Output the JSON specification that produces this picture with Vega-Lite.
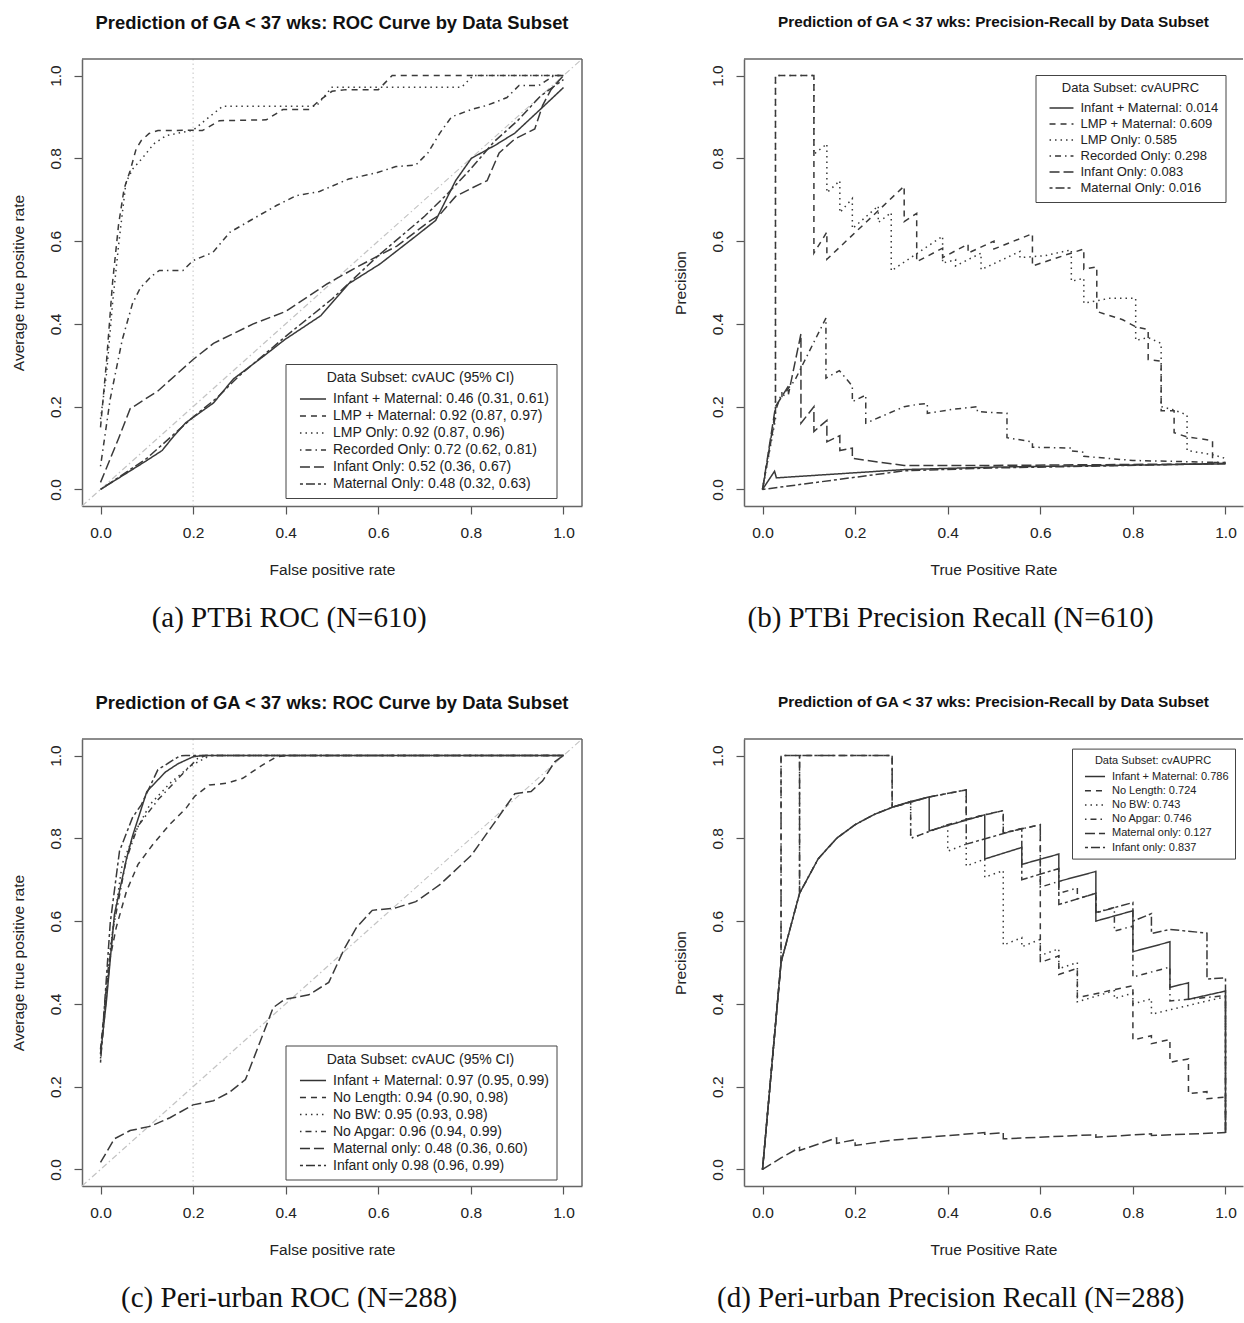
{
"$schema": "https://vega.github.io/schema/vega-lite/v6.json",
"background": "white",
"padding": {"left": 11, "top": 13, "right": 0, "bottom": 0},
"config": {
 "font": "Liberation Sans",
 "view": {"stroke": null},
 "axis": {"grid": false, "domainColor": "#666", "domainWidth": 1.5, "tickColor": "#555", "tickWidth": 1.2, "tickSize": 8, "labelFontSize": 15.5, "titleFontSize": 15.5, "labelColor": "#222", "titleColor": "#222", "titleFontWeight": "normal", "labelFlush": false, "labelOverlap": false},
 "axisX": {"labelPadding": 11, "titlePadding": 22},
 "axisY": {"labelAngle": -90, "labelAlign": "center", "labelBaseline": "alphabetic", "labelPadding": 13.5, "titlePadding": 22},
 "title": {"font": "Liberation Sans", "fontWeight": "bold", "color": "#111", "anchor": "middle"},
 "legend": {"orient": "none", "fillColor": "white", "strokeColor": "#444", "titleFontWeight": "normal", "titleColor": "#222", "labelColor": "#222", "labelLimit": 500, "titleLimit": 500, "titleAnchor": "middle", "symbolStrokeWidth": 1.5, "symbolStrokeColor": "#333"}
},
"datasets": {
"a": [
{"s":"s1","x":0,"y":0},{"s":"s1","x":0.05,"y":0.035},{"s":"s1","x":0.1,"y":0.07},{"s":"s1","x":0.133,"y":0.094},{"s":"s1","x":0.159,"y":0.13},{"s":"s1","x":0.184,"y":0.161},{"s":"s1","x":0.244,"y":0.209},{"s":"s1","x":0.287,"y":0.267},{"s":"s1","x":0.35,"y":0.32},{"s":"s1","x":0.398,"y":0.362},{"s":"s1","x":0.476,"y":0.42},{"s":"s1","x":0.536,"y":0.497},{"s":"s1","x":0.604,"y":0.545},{"s":"s1","x":0.681,"y":0.612},{"s":"s1","x":0.724,"y":0.65},{"s":"s1","x":0.767,"y":0.746},{"s":"s1","x":0.801,"y":0.8},{"s":"s1","x":0.853,"y":0.832},{"s":"s1","x":0.895,"y":0.861},{"s":"s1","x":0.964,"y":0.933},{"s":"s1","x":1,"y":0.971},
{"s":"s2","x":0,"y":0.15},{"s":"s2","x":0.013,"y":0.31},{"s":"s2","x":0.026,"y":0.5},{"s":"s2","x":0.039,"y":0.64},{"s":"s2","x":0.051,"y":0.727},{"s":"s2","x":0.064,"y":0.77},{"s":"s2","x":0.077,"y":0.823},{"s":"s2","x":0.088,"y":0.843},{"s":"s2","x":0.105,"y":0.86},{"s":"s2","x":0.124,"y":0.867},{"s":"s2","x":0.2,"y":0.868},{"s":"s2","x":0.22,"y":0.867},{"s":"s2","x":0.257,"y":0.891},{"s":"s2","x":0.358,"y":0.893},{"s":"s2","x":0.394,"y":0.918},{"s":"s2","x":0.451,"y":0.918},{"s":"s2","x":0.473,"y":0.94},{"s":"s2","x":0.5,"y":0.962},{"s":"s2","x":0.53,"y":0.966},{"s":"s2","x":0.6,"y":0.966},{"s":"s2","x":0.63,"y":1},{"s":"s2","x":1,"y":1},
{"s":"s3","x":0,"y":0.17},{"s":"s3","x":0.013,"y":0.28},{"s":"s3","x":0.026,"y":0.45},{"s":"s3","x":0.04,"y":0.6},{"s":"s3","x":0.055,"y":0.742},{"s":"s3","x":0.07,"y":0.775},{"s":"s3","x":0.09,"y":0.8},{"s":"s3","x":0.115,"y":0.835},{"s":"s3","x":0.142,"y":0.855},{"s":"s3","x":0.2,"y":0.868},{"s":"s3","x":0.235,"y":0.9},{"s":"s3","x":0.264,"y":0.926},{"s":"s3","x":0.466,"y":0.926},{"s":"s3","x":0.5,"y":0.972},{"s":"s3","x":0.78,"y":0.972},{"s":"s3","x":0.805,"y":1},{"s":"s3","x":1,"y":1},
{"s":"s4","x":0,"y":0.056},{"s":"s4","x":0.021,"y":0.219},{"s":"s4","x":0.047,"y":0.362},{"s":"s4","x":0.069,"y":0.449},{"s":"s4","x":0.086,"y":0.487},{"s":"s4","x":0.11,"y":0.515},{"s":"s4","x":0.127,"y":0.529},{"s":"s4","x":0.178,"y":0.529},{"s":"s4","x":0.2,"y":0.553},{"s":"s4","x":0.243,"y":0.573},{"s":"s4","x":0.279,"y":0.621},{"s":"s4","x":0.336,"y":0.658},{"s":"s4","x":0.38,"y":0.686},{"s":"s4","x":0.423,"y":0.71},{"s":"s4","x":0.473,"y":0.72},{"s":"s4","x":0.536,"y":0.75},{"s":"s4","x":0.596,"y":0.765},{"s":"s4","x":0.638,"y":0.78},{"s":"s4","x":0.681,"y":0.784},{"s":"s4","x":0.707,"y":0.813},{"s":"s4","x":0.733,"y":0.861},{"s":"s4","x":0.758,"y":0.9},{"s":"s4","x":0.801,"y":0.918},{"s":"s4","x":0.835,"y":0.928},{"s":"s4","x":0.878,"y":0.947},{"s":"s4","x":0.904,"y":0.976},{"s":"s4","x":0.947,"y":0.976},{"s":"s4","x":0.98,"y":1},{"s":"s4","x":1,"y":1},
{"s":"s5","x":0,"y":0.017},{"s":"s5","x":0.039,"y":0.123},{"s":"s5","x":0.064,"y":0.195},{"s":"s5","x":0.124,"y":0.238},{"s":"s5","x":0.2,"y":0.314},{"s":"s5","x":0.244,"y":0.353},{"s":"s5","x":0.33,"y":0.4},{"s":"s5","x":0.4,"y":0.43},{"s":"s5","x":0.49,"y":0.497},{"s":"s5","x":0.55,"y":0.535},{"s":"s5","x":0.64,"y":0.588},{"s":"s5","x":0.707,"y":0.645},{"s":"s5","x":0.733,"y":0.664},{"s":"s5","x":0.767,"y":0.708},{"s":"s5","x":0.8,"y":0.727},{"s":"s5","x":0.835,"y":0.746},{"s":"s5","x":0.861,"y":0.813},{"s":"s5","x":0.895,"y":0.847},{"s":"s5","x":0.938,"y":0.871},{"s":"s5","x":0.955,"y":0.928},{"s":"s5","x":0.973,"y":0.966},{"s":"s5","x":1,"y":1},
{"s":"s6","x":0,"y":0},{"s":"s6","x":0.1,"y":0.075},{"s":"s6","x":0.2,"y":0.175},{"s":"s6","x":0.25,"y":0.22},{"s":"s6","x":0.3,"y":0.275},{"s":"s6","x":0.4,"y":0.37},{"s":"s6","x":0.5,"y":0.46},{"s":"s6","x":0.6,"y":0.565},{"s":"s6","x":0.7,"y":0.66},{"s":"s6","x":0.75,"y":0.715},{"s":"s6","x":0.8,"y":0.775},{"s":"s6","x":0.85,"y":0.84},{"s":"s6","x":0.9,"y":0.89},{"s":"s6","x":0.95,"y":0.95},{"s":"s6","x":1,"y":0.99}
],
"b": [
{"s":"s1","x":0,"y":0},{"s":"s1","x":0.026,"y":0.044},{"s":"s1","x":0.03,"y":0.028},{"s":"s1","x":0.306,"y":0.048},{"s":"s1","x":0.5,"y":0.054},{"s":"s1","x":0.75,"y":0.058},{"s":"s1","x":1,"y":0.062},
{"s":"s2","x":0,"y":0},{"s":"s2","x":0.028,"y":0.18},{"s":"s2","x":0.028,"y":1},{"s":"s2","x":0.111,"y":1},{"s":"s2","x":0.111,"y":0.571},{"s":"s2","x":0.139,"y":0.622},{"s":"s2","x":0.139,"y":0.556},{"s":"s2","x":0.306,"y":0.733},{"s":"s2","x":0.306,"y":0.647},{"s":"s2","x":0.333,"y":0.667},{"s":"s2","x":0.333,"y":0.55},{"s":"s2","x":0.389,"y":0.583},{"s":"s2","x":0.389,"y":0.56},{"s":"s2","x":0.444,"y":0.593},{"s":"s2","x":0.444,"y":0.571},{"s":"s2","x":0.5,"y":0.6},{"s":"s2","x":0.5,"y":0.581},{"s":"s2","x":0.583,"y":0.618},{"s":"s2","x":0.583,"y":0.54},{"s":"s2","x":0.694,"y":0.581},{"s":"s2","x":0.694,"y":0.532},{"s":"s2","x":0.722,"y":0.538},{"s":"s2","x":0.722,"y":0.43},{"s":"s2","x":0.778,"y":0.41},{"s":"s2","x":0.806,"y":0.393},{"s":"s2","x":0.833,"y":0.386},{"s":"s2","x":0.833,"y":0.314},{"s":"s2","x":0.861,"y":0.31},{"s":"s2","x":0.861,"y":0.19},{"s":"s2","x":0.889,"y":0.19},{"s":"s2","x":0.889,"y":0.137},{"s":"s2","x":0.917,"y":0.127},{"s":"s2","x":0.972,"y":0.118},{"s":"s2","x":0.972,"y":0.065},{"s":"s2","x":1,"y":0.065},
{"s":"s3","x":0,"y":0},{"s":"s3","x":0.028,"y":0.17},{"s":"s3","x":0.028,"y":1},{"s":"s3","x":0.111,"y":1},{"s":"s3","x":0.111,"y":0.81},{"s":"s3","x":0.139,"y":0.835},{"s":"s3","x":0.139,"y":0.717},{"s":"s3","x":0.167,"y":0.746},{"s":"s3","x":0.167,"y":0.669},{"s":"s3","x":0.194,"y":0.703},{"s":"s3","x":0.194,"y":0.63},{"s":"s3","x":0.25,"y":0.685},{"s":"s3","x":0.25,"y":0.645},{"s":"s3","x":0.278,"y":0.669},{"s":"s3","x":0.278,"y":0.528},{"s":"s3","x":0.389,"y":0.612},{"s":"s3","x":0.389,"y":0.547},{"s":"s3","x":0.417,"y":0.555},{"s":"s3","x":0.417,"y":0.54},{"s":"s3","x":0.472,"y":0.571},{"s":"s3","x":0.472,"y":0.531},{"s":"s3","x":0.556,"y":0.575},{"s":"s3","x":0.556,"y":0.56},{"s":"s3","x":0.611,"y":0.565},{"s":"s3","x":0.667,"y":0.579},{"s":"s3","x":0.667,"y":0.503},{"s":"s3","x":0.694,"y":0.51},{"s":"s3","x":0.694,"y":0.45},{"s":"s3","x":0.75,"y":0.462},{"s":"s3","x":0.806,"y":0.462},{"s":"s3","x":0.806,"y":0.36},{"s":"s3","x":0.833,"y":0.367},{"s":"s3","x":0.861,"y":0.353},{"s":"s3","x":0.861,"y":0.2},{"s":"s3","x":0.889,"y":0.192},{"s":"s3","x":0.917,"y":0.18},{"s":"s3","x":0.917,"y":0.094},{"s":"s3","x":0.972,"y":0.084},{"s":"s3","x":1,"y":0.075},
{"s":"s4","x":0,"y":0},{"s":"s4","x":0.028,"y":0.19},{"s":"s4","x":0.042,"y":0.235},{"s":"s4","x":0.042,"y":0.22},{"s":"s4","x":0.056,"y":0.245},{"s":"s4","x":0.069,"y":0.262},{"s":"s4","x":0.137,"y":0.414},{"s":"s4","x":0.137,"y":0.269},{"s":"s4","x":0.166,"y":0.287},{"s":"s4","x":0.194,"y":0.25},{"s":"s4","x":0.194,"y":0.212},{"s":"s4","x":0.223,"y":0.228},{"s":"s4","x":0.223,"y":0.16},{"s":"s4","x":0.306,"y":0.2},{"s":"s4","x":0.333,"y":0.205},{"s":"s4","x":0.356,"y":0.208},{"s":"s4","x":0.356,"y":0.184},{"s":"s4","x":0.414,"y":0.194},{"s":"s4","x":0.464,"y":0.2},{"s":"s4","x":0.464,"y":0.188},{"s":"s4","x":0.528,"y":0.184},{"s":"s4","x":0.528,"y":0.125},{"s":"s4","x":0.556,"y":0.12},{"s":"s4","x":0.583,"y":0.115},{"s":"s4","x":0.583,"y":0.102},{"s":"s4","x":0.667,"y":0.1},{"s":"s4","x":0.667,"y":0.093},{"s":"s4","x":0.694,"y":0.09},{"s":"s4","x":0.694,"y":0.08},{"s":"s4","x":0.8,"y":0.07},{"s":"s4","x":1,"y":0.065},
{"s":"s5","x":0,"y":0},{"s":"s5","x":0.028,"y":0.2},{"s":"s5","x":0.056,"y":0.25},{"s":"s5","x":0.056,"y":0.23},{"s":"s5","x":0.083,"y":0.376},{"s":"s5","x":0.083,"y":0.16},{"s":"s5","x":0.111,"y":0.2},{"s":"s5","x":0.111,"y":0.14},{"s":"s5","x":0.139,"y":0.167},{"s":"s5","x":0.139,"y":0.115},{"s":"s5","x":0.167,"y":0.13},{"s":"s5","x":0.167,"y":0.094},{"s":"s5","x":0.194,"y":0.1},{"s":"s5","x":0.194,"y":0.075},{"s":"s5","x":0.278,"y":0.062},{"s":"s5","x":0.306,"y":0.058},{"s":"s5","x":0.5,"y":0.058},{"s":"s5","x":1,"y":0.062},
{"s":"s6","x":0,"y":0},{"s":"s6","x":0.306,"y":0.045},{"s":"s6","x":0.5,"y":0.052},{"s":"s6","x":0.75,"y":0.057},{"s":"s6","x":1,"y":0.063}
],
"c": [
{"s":"s1","x":0,"y":0.278},{"s":"s1","x":0.013,"y":0.41},{"s":"s1","x":0.03,"y":0.616},{"s":"s1","x":0.056,"y":0.75},{"s":"s1","x":0.069,"y":0.805},{"s":"s1","x":0.1,"y":0.913},{"s":"s1","x":0.14,"y":0.96},{"s":"s1","x":0.167,"y":0.98},{"s":"s1","x":0.2,"y":0.997},{"s":"s1","x":0.22,"y":1},{"s":"s1","x":1,"y":1},
{"s":"s2","x":0,"y":0.29},{"s":"s2","x":0.017,"y":0.49},{"s":"s2","x":0.034,"y":0.585},{"s":"s2","x":0.056,"y":0.672},{"s":"s2","x":0.081,"y":0.737},{"s":"s2","x":0.113,"y":0.785},{"s":"s2","x":0.149,"y":0.833},{"s":"s2","x":0.185,"y":0.873},{"s":"s2","x":0.203,"y":0.901},{"s":"s2","x":0.235,"y":0.929},{"s":"s2","x":0.272,"y":0.933},{"s":"s2","x":0.307,"y":0.945},{"s":"s2","x":0.347,"y":0.975},{"s":"s2","x":0.38,"y":0.997},{"s":"s2","x":0.4,"y":1},{"s":"s2","x":1,"y":1},
{"s":"s3","x":0,"y":0.28},{"s":"s3","x":0.021,"y":0.534},{"s":"s3","x":0.047,"y":0.739},{"s":"s3","x":0.077,"y":0.82},{"s":"s3","x":0.107,"y":0.882},{"s":"s3","x":0.15,"y":0.933},{"s":"s3","x":0.193,"y":0.974},{"s":"s3","x":0.236,"y":1},{"s":"s3","x":1,"y":1},
{"s":"s4","x":0,"y":0.268},{"s":"s4","x":0.026,"y":0.575},{"s":"s4","x":0.056,"y":0.75},{"s":"s4","x":0.081,"y":0.83},{"s":"s4","x":0.124,"y":0.893},{"s":"s4","x":0.167,"y":0.944},{"s":"s4","x":0.21,"y":0.993},{"s":"s4","x":0.227,"y":1},{"s":"s4","x":1,"y":1},
{"s":"s5","x":0,"y":0.017},{"s":"s5","x":0.03,"y":0.074},{"s":"s5","x":0.064,"y":0.094},{"s":"s5","x":0.107,"y":0.104},{"s":"s5","x":0.15,"y":0.125},{"s":"s5","x":0.2,"y":0.156},{"s":"s5","x":0.244,"y":0.166},{"s":"s5","x":0.278,"y":0.186},{"s":"s5","x":0.313,"y":0.217},{"s":"s5","x":0.338,"y":0.289},{"s":"s5","x":0.373,"y":0.391},{"s":"s5","x":0.398,"y":0.411},{"s":"s5","x":0.45,"y":0.422},{"s":"s5","x":0.493,"y":0.452},{"s":"s5","x":0.527,"y":0.534},{"s":"s5","x":0.553,"y":0.585},{"s":"s5","x":0.587,"y":0.626},{"s":"s5","x":0.638,"y":0.632},{"s":"s5","x":0.681,"y":0.647},{"s":"s5","x":0.733,"y":0.688},{"s":"s5","x":0.801,"y":0.759},{"s":"s5","x":0.853,"y":0.841},{"s":"s5","x":0.895,"y":0.908},{"s":"s5","x":0.93,"y":0.913},{"s":"s5","x":0.955,"y":0.939},{"s":"s5","x":0.981,"y":0.985},{"s":"s5","x":1,"y":1},
{"s":"s6","x":0,"y":0.258},{"s":"s6","x":0.021,"y":0.596},{"s":"s6","x":0.041,"y":0.769},{"s":"s6","x":0.069,"y":0.85},{"s":"s6","x":0.088,"y":0.881},{"s":"s6","x":0.124,"y":0.966},{"s":"s6","x":0.171,"y":0.999},{"s":"s6","x":0.184,"y":1},{"s":"s6","x":1,"y":1}
],
"d": [
{"s":"s1","x":0,"y":0},{"s":"s1","x":0.04,"y":0.5},{"s":"s1","x":0.08,"y":0.667},{"s":"s1","x":0.12,"y":0.75},{"s":"s1","x":0.16,"y":0.8},{"s":"s1","x":0.2,"y":0.833},{"s":"s1","x":0.24,"y":0.857},{"s":"s1","x":0.28,"y":0.875},{"s":"s1","x":0.32,"y":0.889},{"s":"s1","x":0.36,"y":0.9},{"s":"s1","x":0.36,"y":0.818},{"s":"s1","x":0.48,"y":0.857},{"s":"s1","x":0.48,"y":0.75},{"s":"s1","x":0.56,"y":0.778},{"s":"s1","x":0.56,"y":0.737},{"s":"s1","x":0.64,"y":0.762},{"s":"s1","x":0.64,"y":0.696},{"s":"s1","x":0.72,"y":0.72},{"s":"s1","x":0.72,"y":0.6},{"s":"s1","x":0.8,"y":0.625},{"s":"s1","x":0.8,"y":0.526},{"s":"s1","x":0.88,"y":0.55},{"s":"s1","x":0.88,"y":0.44},{"s":"s1","x":0.92,"y":0.451},{"s":"s1","x":0.92,"y":0.411},{"s":"s1","x":1,"y":0.431},{"s":"s1","x":1,"y":0.088},
{"s":"s2","x":0,"y":0},{"s":"s2","x":0.04,"y":0.5},{"s":"s2","x":0.04,"y":1},{"s":"s2","x":0.28,"y":1},{"s":"s2","x":0.28,"y":0.875},{"s":"s2","x":0.36,"y":0.9},{"s":"s2","x":0.44,"y":0.917},{"s":"s2","x":0.44,"y":0.846},{"s":"s2","x":0.52,"y":0.867},{"s":"s2","x":0.52,"y":0.813},{"s":"s2","x":0.6,"y":0.833},{"s":"s2","x":0.6,"y":0.5},{"s":"s2","x":0.64,"y":0.516},{"s":"s2","x":0.64,"y":0.471},{"s":"s2","x":0.68,"y":0.486},{"s":"s2","x":0.68,"y":0.415},{"s":"s2","x":0.8,"y":0.444},{"s":"s2","x":0.8,"y":0.313},{"s":"s2","x":0.84,"y":0.323},{"s":"s2","x":0.84,"y":0.304},{"s":"s2","x":0.88,"y":0.314},{"s":"s2","x":0.88,"y":0.259},{"s":"s2","x":0.92,"y":0.267},{"s":"s2","x":0.92,"y":0.183},{"s":"s2","x":0.96,"y":0.188},{"s":"s2","x":0.96,"y":0.171},{"s":"s2","x":1,"y":0.175},{"s":"s2","x":1,"y":0.088},
{"s":"s3","x":0,"y":0},{"s":"s3","x":0.04,"y":0.5},{"s":"s3","x":0.08,"y":0.667},{"s":"s3","x":0.12,"y":0.75},{"s":"s3","x":0.16,"y":0.8},{"s":"s3","x":0.2,"y":0.833},{"s":"s3","x":0.24,"y":0.857},{"s":"s3","x":0.28,"y":0.875},{"s":"s3","x":0.32,"y":0.889},{"s":"s3","x":0.32,"y":0.8},{"s":"s3","x":0.4,"y":0.833},{"s":"s3","x":0.4,"y":0.769},{"s":"s3","x":0.44,"y":0.786},{"s":"s3","x":0.44,"y":0.733},{"s":"s3","x":0.48,"y":0.75},{"s":"s3","x":0.48,"y":0.706},{"s":"s3","x":0.52,"y":0.722},{"s":"s3","x":0.52,"y":0.542},{"s":"s3","x":0.56,"y":0.56},{"s":"s3","x":0.56,"y":0.538},{"s":"s3","x":0.6,"y":0.556},{"s":"s3","x":0.6,"y":0.517},{"s":"s3","x":0.64,"y":0.533},{"s":"s3","x":0.64,"y":0.485},{"s":"s3","x":0.68,"y":0.5},{"s":"s3","x":0.68,"y":0.405},{"s":"s3","x":0.76,"y":0.432},{"s":"s3","x":0.76,"y":0.413},{"s":"s3","x":0.8,"y":0.426},{"s":"s3","x":0.8,"y":0.4},{"s":"s3","x":0.84,"y":0.412},{"s":"s3","x":0.84,"y":0.375},{"s":"s3","x":0.96,"y":0.407},{"s":"s3","x":1,"y":0.417},{"s":"s3","x":1,"y":0.088},
{"s":"s4","x":0,"y":0},{"s":"s4","x":0.04,"y":0.5},{"s":"s4","x":0.04,"y":1},{"s":"s4","x":0.08,"y":1},{"s":"s4","x":0.08,"y":0.667},{"s":"s4","x":0.12,"y":0.75},{"s":"s4","x":0.16,"y":0.8},{"s":"s4","x":0.2,"y":0.833},{"s":"s4","x":0.24,"y":0.857},{"s":"s4","x":0.28,"y":0.875},{"s":"s4","x":0.32,"y":0.889},{"s":"s4","x":0.32,"y":0.8},{"s":"s4","x":0.4,"y":0.833},{"s":"s4","x":0.48,"y":0.857},{"s":"s4","x":0.52,"y":0.867},{"s":"s4","x":0.52,"y":0.813},{"s":"s4","x":0.6,"y":0.833},{"s":"s4","x":0.6,"y":0.682},{"s":"s4","x":0.64,"y":0.696},{"s":"s4","x":0.64,"y":0.667},{"s":"s4","x":0.68,"y":0.68},{"s":"s4","x":0.68,"y":0.654},{"s":"s4","x":0.72,"y":0.667},{"s":"s4","x":0.72,"y":0.621},{"s":"s4","x":0.76,"y":0.633},{"s":"s4","x":0.76,"y":0.576},{"s":"s4","x":0.8,"y":0.588},{"s":"s4","x":0.8,"y":0.465},{"s":"s4","x":0.88,"y":0.489},{"s":"s4","x":0.88,"y":0.407},{"s":"s4","x":1,"y":0.42},{"s":"s4","x":1,"y":0.088},
{"s":"s5","x":0,"y":0},{"s":"s5","x":0.04,"y":0.028},{"s":"s5","x":0.08,"y":0.053},{"s":"s5","x":0.08,"y":0.046},{"s":"s5","x":0.16,"y":0.076},{"s":"s5","x":0.16,"y":0.063},{"s":"s5","x":0.2,"y":0.072},{"s":"s5","x":0.2,"y":0.058},{"s":"s5","x":0.28,"y":0.071},{"s":"s5","x":0.48,"y":0.089},{"s":"s5","x":0.48,"y":0.085},{"s":"s5","x":0.52,"y":0.089},{"s":"s5","x":0.52,"y":0.074},{"s":"s5","x":0.72,"y":0.084},{"s":"s5","x":0.72,"y":0.078},{"s":"s5","x":0.84,"y":0.086},{"s":"s5","x":0.84,"y":0.082},{"s":"s5","x":1,"y":0.089},
{"s":"s6","x":0,"y":0},{"s":"s6","x":0.04,"y":0.5},{"s":"s6","x":0.08,"y":0.667},{"s":"s6","x":0.08,"y":1},{"s":"s6","x":0.28,"y":1},{"s":"s6","x":0.28,"y":0.875},{"s":"s6","x":0.36,"y":0.9},{"s":"s6","x":0.44,"y":0.917},{"s":"s6","x":0.44,"y":0.786},{"s":"s6","x":0.56,"y":0.824},{"s":"s6","x":0.56,"y":0.7},{"s":"s6","x":0.64,"y":0.727},{"s":"s6","x":0.64,"y":0.64},{"s":"s6","x":0.72,"y":0.667},{"s":"s6","x":0.72,"y":0.62},{"s":"s6","x":0.8,"y":0.645},{"s":"s6","x":0.8,"y":0.6},{"s":"s6","x":0.84,"y":0.618},{"s":"s6","x":0.84,"y":0.57},{"s":"s6","x":0.88,"y":0.58},{"s":"s6","x":0.96,"y":0.571},{"s":"s6","x":0.96,"y":0.46},{"s":"s6","x":1,"y":0.463},{"s":"s6","x":1,"y":0.088}
]
},
"resolve": {"scale": {"strokeDash": "independent"}, "legend": {"strokeDash": "independent"}},
"spacing": 60,
"vconcat": [
{"hconcat": [
 {"title": {"text": "(a) PTBi ROC (N=610)", "orient": "bottom", "font": "Liberation Serif", "fontSize": 29, "fontWeight": "normal", "offset": 26, "frame": "bounds", "anchor": "middle", "dx": -8, "color": "#111"},
  "vconcat": [{
  "width": 500, "height": 447,
  "title": {"text": "Prediction of GA < 37 wks: ROC Curve by Data Subset", "fontSize": 18.4, "offset": 26, "frame": "group"},
  "layer": [
   {"data": {"values": [{}]}, "mark": {"type": "rule", "color": "#cfcfcf", "strokeDash": [1.5, 3], "strokeWidth": 1.2}, "encoding": {"x": {"datum": 0.2, "type": "quantitative"}}},
   {"data": {"values": [{"x": -0.04, "y": -0.04}, {"x": 1.04, "y": 1.04}]}, "mark": {"type": "line", "color": "#c4c4c4", "strokeDash": [6, 3, 1.5, 3], "strokeWidth": 1.2, "clip": true}, "encoding": {"x": {"field": "x", "type": "quantitative"}, "y": {"field": "y", "type": "quantitative"}}},
   {"data": {"name": "a"}, "transform": [{"window": [{"op": "row_number", "as": "i"}], "groupby": ["s"]}],
    "mark": {"type": "line", "color": "#3a3a3a", "strokeWidth": 1.5, "clip": true},
    "encoding": {
     "x": {"field": "x", "type": "quantitative", "scale": {"domain": [-0.04, 1.04], "nice": false, "zero": false}, "axis": {"values": [0, 0.2, 0.4, 0.6, 0.8, 1], "format": ".1f", "title": "False positive rate"}},
     "y": {"field": "y", "type": "quantitative", "scale": {"domain": [-0.04, 1.04], "nice": false, "zero": false}, "axis": {"values": [0, 0.2, 0.4, 0.6, 0.8, 1], "format": ".1f", "title": "Average true positive rate"}},
     "strokeDash": {"field": "s", "type": "nominal", "scale": {"domain": ["s1", "s2", "s3", "s4", "s5", "s6"], "range": [[1, 0], [6, 5], [1.5, 4], [1.5, 4, 6, 4], [10, 4], [3, 3, 9, 3]]},
      "legend": {"title": "Data Subset: cvAUC (95% CI)", "legendX": 203.5, "legendY": 305, "padding": 7, "titleFontSize": 14, "labelFontSize": 14, "titlePadding": 6, "rowPadding": 2, "symbolSize": 196, "symbolType": "M-1.86,0H1.86", "symbolOffset": 12.5, "labelOffset": 12,
       "labelExpr": "datum.value=='s1'?'Infant + Maternal: 0.46 (0.31, 0.61)':datum.value=='s2'?'LMP + Maternal: 0.92 (0.87, 0.97)':datum.value=='s3'?'LMP Only: 0.92 (0.87, 0.96)':datum.value=='s4'?'Recorded Only: 0.72 (0.62, 0.81)':datum.value=='s5'?'Infant Only: 0.52 (0.36, 0.67)':'Maternal Only: 0.48 (0.32, 0.63)'"}},
     "order": {"field": "i", "type": "quantitative"}
    }},
   {"data": {"values": [{}]}, "mark": {"type": "rule", "color": "#666", "strokeWidth": 1.5}, "encoding": {"y": {"datum": 1.04, "type": "quantitative"}}},
   {"data": {"values": [{}]}, "mark": {"type": "rule", "color": "#666", "strokeWidth": 1.5}, "encoding": {"x": {"datum": 1.04, "type": "quantitative"}}}
  ]
 }]},
 {"title": {"text": "(b) PTBi Precision Recall (N=610)", "orient": "bottom", "font": "Liberation Serif", "fontSize": 29, "fontWeight": "normal", "offset": 26, "frame": "bounds", "anchor": "middle", "dx": -8, "color": "#111"},
  "vconcat": [{
  "width": 499, "height": 447,
  "title": {"text": "Prediction of GA < 37 wks: Precision-Recall by Data Subset", "fontSize": 15.3, "offset": 28, "frame": "group"},
  "layer": [
   {"data": {"name": "b"}, "transform": [{"window": [{"op": "row_number", "as": "i"}], "groupby": ["s"]}],
    "mark": {"type": "line", "color": "#3a3a3a", "strokeWidth": 1.5, "clip": true},
    "encoding": {
     "x": {"field": "x", "type": "quantitative", "scale": {"domain": [-0.04, 1.0378], "nice": false, "zero": false}, "axis": {"values": [0, 0.2, 0.4, 0.6, 0.8, 1], "format": ".1f", "title": "True Positive Rate"}},
     "y": {"field": "y", "type": "quantitative", "scale": {"domain": [-0.04, 1.04], "nice": false, "zero": false}, "axis": {"values": [0, 0.2, 0.4, 0.6, 0.8, 1], "format": ".1f", "title": "Precision"}},
     "strokeDash": {"field": "s", "type": "nominal", "scale": {"domain": ["s1", "s2", "s3", "s4", "s5", "s6"], "range": [[1, 0], [6, 5], [1.5, 4], [1.5, 4, 6, 4], [10, 4], [3, 3, 9, 3]]},
      "legend": {"title": "Data Subset: cvAUPRC", "legendX": 291.5, "legendY": 16, "padding": 7, "titleFontSize": 13, "labelFontSize": 13, "titlePadding": 5, "rowPadding": 1, "symbolSize": 196, "symbolType": "M-1.71,0H1.71", "symbolOffset": 11, "labelOffset": 11,
       "labelExpr": "datum.value=='s1'?'Infant + Maternal: 0.014':datum.value=='s2'?'LMP + Maternal: 0.609':datum.value=='s3'?'LMP Only: 0.585':datum.value=='s4'?'Recorded Only: 0.298':datum.value=='s5'?'Infant Only: 0.083':'Maternal Only: 0.016'"}},
     "order": {"field": "i", "type": "quantitative"}
    }},
   {"data": {"values": [{}]}, "mark": {"type": "rule", "color": "#666", "strokeWidth": 1.5}, "encoding": {"y": {"datum": 1.04, "type": "quantitative"}}}
  ]
 }]}
], "spacing": 90, "resolve": {"scale": {"strokeDash": "independent"}, "legend": {"strokeDash": "independent"}}},
{"hconcat": [
 {"title": {"text": "(c) Peri-urban ROC (N=288)", "orient": "bottom", "font": "Liberation Serif", "fontSize": 29, "fontWeight": "normal", "offset": 26, "frame": "bounds", "anchor": "middle", "dx": -8, "color": "#111"},
  "vconcat": [{
  "width": 500, "height": 447,
  "title": {"text": "Prediction of GA < 37 wks: ROC Curve by Data Subset", "fontSize": 18.4, "offset": 26, "frame": "group"},
  "layer": [
   {"data": {"values": [{}]}, "mark": {"type": "rule", "color": "#cfcfcf", "strokeDash": [1.5, 3], "strokeWidth": 1.2}, "encoding": {"x": {"datum": 0.2, "type": "quantitative"}}},
   {"data": {"values": [{"x": -0.04, "y": -0.04}, {"x": 1.04, "y": 1.04}]}, "mark": {"type": "line", "color": "#c4c4c4", "strokeDash": [6, 3, 1.5, 3], "strokeWidth": 1.2, "clip": true}, "encoding": {"x": {"field": "x", "type": "quantitative"}, "y": {"field": "y", "type": "quantitative"}}},
   {"data": {"name": "c"}, "transform": [{"window": [{"op": "row_number", "as": "i"}], "groupby": ["s"]}],
    "mark": {"type": "line", "color": "#3a3a3a", "strokeWidth": 1.5, "clip": true},
    "encoding": {
     "x": {"field": "x", "type": "quantitative", "scale": {"domain": [-0.04, 1.04], "nice": false, "zero": false}, "axis": {"values": [0, 0.2, 0.4, 0.6, 0.8, 1], "format": ".1f", "title": "False positive rate"}},
     "y": {"field": "y", "type": "quantitative", "scale": {"domain": [-0.04, 1.04], "nice": false, "zero": false}, "axis": {"values": [0, 0.2, 0.4, 0.6, 0.8, 1], "format": ".1f", "title": "Average true positive rate"}},
     "strokeDash": {"field": "s", "type": "nominal", "scale": {"domain": ["s1", "s2", "s3", "s4", "s5", "s6"], "range": [[1, 0], [6, 5], [1.5, 4], [1.5, 4, 6, 4], [10, 4], [3, 3, 9, 3]]},
      "legend": {"title": "Data Subset: cvAUC (95% CI)", "legendX": 203.5, "legendY": 306.5, "padding": 7, "titleFontSize": 14, "labelFontSize": 14, "titlePadding": 6, "rowPadding": 2, "symbolSize": 196, "symbolType": "M-1.86,0H1.86", "symbolOffset": 12.5, "labelOffset": 12,
       "labelExpr": "datum.value=='s1'?'Infant + Maternal: 0.97 (0.95, 0.99)':datum.value=='s2'?'No Length: 0.94 (0.90, 0.98)':datum.value=='s3'?'No BW: 0.95 (0.93, 0.98)':datum.value=='s4'?'No Apgar: 0.96 (0.94, 0.99)':datum.value=='s5'?'Maternal only: 0.48 (0.36, 0.60)':'Infant only 0.98 (0.96, 0.99)'"}},
     "order": {"field": "i", "type": "quantitative"}
    }},
   {"data": {"values": [{}]}, "mark": {"type": "rule", "color": "#666", "strokeWidth": 1.5}, "encoding": {"y": {"datum": 1.04, "type": "quantitative"}}},
   {"data": {"values": [{}]}, "mark": {"type": "rule", "color": "#666", "strokeWidth": 1.5}, "encoding": {"x": {"datum": 1.04, "type": "quantitative"}}}
  ]
 }]},
 {"title": {"text": "(d) Peri-urban Precision Recall (N=288)", "orient": "bottom", "font": "Liberation Serif", "fontSize": 29, "fontWeight": "normal", "offset": 26, "frame": "bounds", "anchor": "middle", "dx": -8, "color": "#111"},
  "vconcat": [{
  "width": 499, "height": 447,
  "title": {"text": "Prediction of GA < 37 wks: Precision-Recall by Data Subset", "fontSize": 15.3, "offset": 28, "frame": "group"},
  "layer": [
   {"data": {"name": "d"}, "transform": [{"window": [{"op": "row_number", "as": "i"}], "groupby": ["s"]}],
    "mark": {"type": "line", "color": "#3a3a3a", "strokeWidth": 1.5, "clip": true},
    "encoding": {
     "x": {"field": "x", "type": "quantitative", "scale": {"domain": [-0.04, 1.0378], "nice": false, "zero": false}, "axis": {"values": [0, 0.2, 0.4, 0.6, 0.8, 1], "format": ".1f", "title": "True Positive Rate"}},
     "y": {"field": "y", "type": "quantitative", "scale": {"domain": [-0.04, 1.04], "nice": false, "zero": false}, "axis": {"values": [0, 0.2, 0.4, 0.6, 0.8, 1], "format": ".1f", "title": "Precision"}},
     "strokeDash": {"field": "s", "type": "nominal", "scale": {"domain": ["s1", "s2", "s3", "s4", "s5", "s6"], "range": [[1, 0], [6, 5], [1.5, 4], [1.5, 4, 6, 4], [10, 4], [3, 3, 9, 3]]},
      "legend": {"title": "Data Subset: cvAUPRC", "legendX": 328, "legendY": 9.6, "padding": 6, "titleFontSize": 11, "labelFontSize": 11, "titlePadding": 4, "rowPadding": 2.2, "symbolSize": 144, "symbolType": "M-1.67,0H1.67", "symbolOffset": 10, "labelOffset": 10,
       "labelExpr": "datum.value=='s1'?'Infant + Maternal: 0.786':datum.value=='s2'?'No Length: 0.724':datum.value=='s3'?'No BW: 0.743':datum.value=='s4'?'No Apgar: 0.746':datum.value=='s5'?'Maternal only: 0.127':'Infant only: 0.837'"}},
     "order": {"field": "i", "type": "quantitative"}
    }},
   {"data": {"values": [{}]}, "mark": {"type": "rule", "color": "#666", "strokeWidth": 1.5}, "encoding": {"y": {"datum": 1.04, "type": "quantitative"}}}
  ]
 }]}
], "spacing": 90, "resolve": {"scale": {"strokeDash": "independent"}, "legend": {"strokeDash": "independent"}}}
]
}
